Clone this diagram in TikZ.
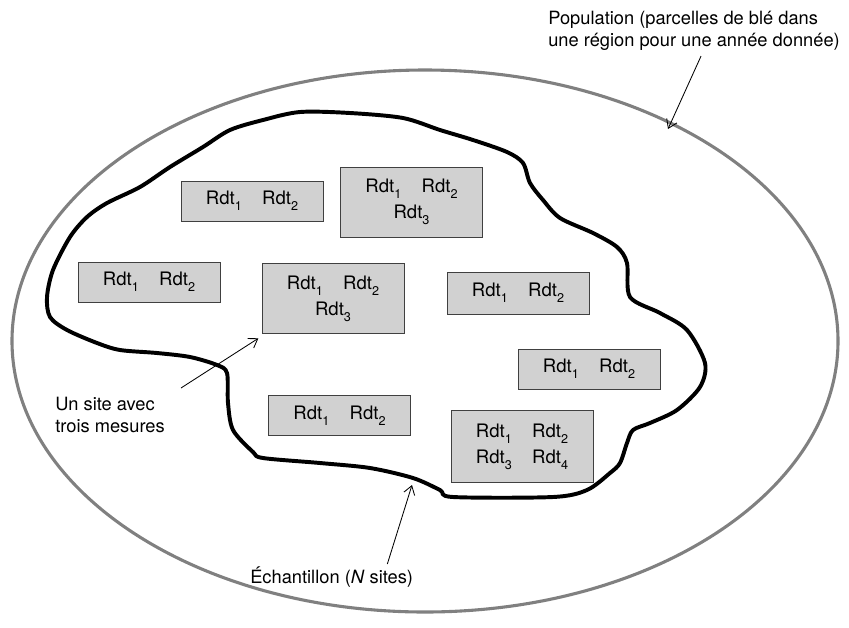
\documentclass[tikz,border=0pt]{standalone}
\usepackage{fontspec}
\setmainfont{TeX Gyre Heros}
\usepackage{tikz}
\usetikzlibrary{arrows.meta,calc}

\newcommand{\rdt}[1]{Rdt\raisebox{-0.6ex}{\fontsize{9}{9}\selectfont #1}}

\begin{document}
\begin{tikzpicture}[x=0.025cm,y=-0.025cm,
  parcelle/.style={draw=black!75,line width=0.6pt,fill=black!18,minimum width=3.55cm,
    minimum height=1cm,inner sep=0pt,align=center,font=\fontsize{13.2}{18.5}\selectfont},
  legende/.style={inner sep=0pt,align=left,font=\fontsize{13}{15.8}\selectfont},
  fleche/.style={-{Straight Barb[length=6pt,width=8pt]},line width=0.6pt}]
\useasboundingbox (0,0) rectangle (849,627);

% population
\draw[black!50,line width=2.2pt] (425,341) ellipse [x radius=413, y radius=271];
\coordinate (popTip) at (668,129);
\node at (548,11) (pop)[legende,anchor=north west]{Population (parcelles de blé dans\\une région pour une année donnée)};
\draw[fleche] ($(pop.south)+(7,5)$) -- (popTip);

% echantillon
\draw[line width=2.8pt,line join=round] plot[smooth cycle,tension=0.5] coordinates {
  (263,120) (300,112) (350,113) (403,118) (440,130) (473,140) (507,152) (523,163)
  (530,183) (543,200) (560,218) (593,233) (617,247) (627,263) (630,297) (660,313)
  (687,330) (705,363) (700,387) (677,410) (650,423) (633,430) (627,443) (620,463)
  (610,473) (587,490) (553,497) (453,497) (440,490) (413,478) (370,468) (320,463)
  (263,458) (253,452) (233,430) (228,403) (227,373) (217,365) (190,357) (157,353)
  (120,350) (97,343) (67,330) (50,317) (47,297) (53,270) (70,237) (87,217)
  (107,203) (140,187) (170,167) (203,147) (230,130)};
\coordinate (echTip) at (412,485);
\node at (250,583) (ech)[legende,anchor=base west]{Échantillon (\textit{N} sites)};
\draw[fleche] ($(ech.north east)+(-26,-2)$) -- (echTip);

% sites
\node at (252,201) (b1)[parcelle]{\rdt1\hspace{1.1em}\rdt2};
\node at (411.5,202) (b2)[parcelle,minimum height=1.75cm]{\rdt1\hspace{1.1em}\rdt2\\\rdt3};
\node at (149,282) (b3)[parcelle]{\rdt1\hspace{1.1em}\rdt2};
\node at (333,298.5) (b4)[parcelle,minimum height=1.73cm]{\rdt1\hspace{1.1em}\rdt2\\\rdt3};
\node at (518,293) (b5)[parcelle,minimum height=1.05cm]{\rdt1\hspace{1.1em}\rdt2};
\node at (589,369) (b6)[parcelle]{\rdt1\hspace{1.1em}\rdt2};
\node at (339.5,415.5) (b7)[parcelle]{\rdt1\hspace{1.1em}\rdt2};
\node at (522,446.5) (b8)[parcelle,minimum height=1.78cm]{\rdt1\hspace{1.1em}\rdt2\\\rdt3\hspace{1.1em}\rdt4};

\node at (55,397) (site)[legende,anchor=north west]{Un site avec\\trois mesures};
\draw[fleche,shorten >=1pt] ($(site.north east)+(16,-9)$) -- ($(b4.south west)+(-2,4)$);
\end{tikzpicture}
\end{document}
